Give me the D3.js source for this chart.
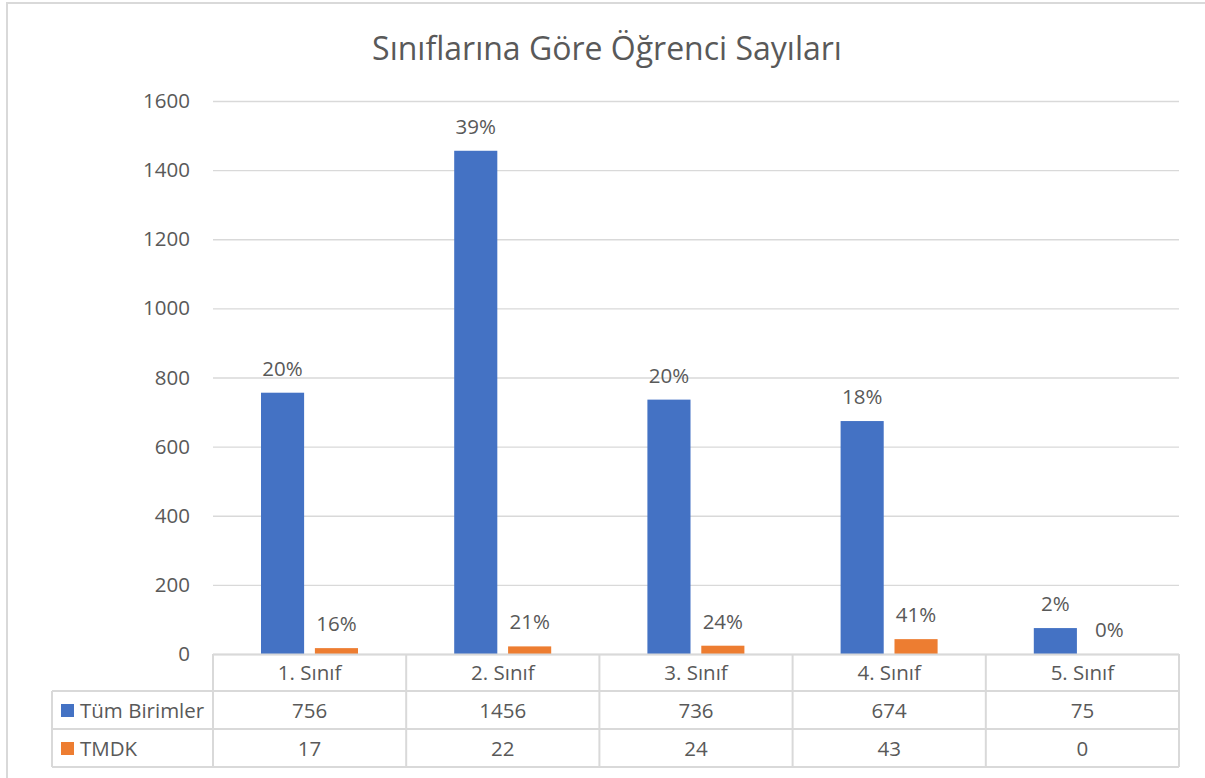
<!DOCTYPE html>
<html>
<head>
<meta charset="utf-8">
<script src="https://cdn.jsdelivr.net/npm/d3@7"></script>
<style>
  body { margin: 0; background: #fff; }
  svg text { font-family: "Open Sans", Lato, sans-serif; fill: #595959; }
</style>
</head>
<body>
<svg width="1205" height="778"></svg>
<script>
// chart data
var categories = ["1. Sınıf", "2. Sınıf", "3. Sınıf", "4. Sınıf", "5. Sınıf"];
var seriesNames = ["Tüm Birimler", "TMDK"];
var tumBirimler = [756, 1456, 736, 674, 75];
var tmdk = [17, 22, 24, 43, 0];
var tumLabels = ["20%", "39%", "20%", "18%", "2%"];
var tmdkLabels = ["16%", "21%", "24%", "41%", "0%"];
var yTicks = [0, 200, 400, 600, 800, 1000, 1200, 1400, 1600];
var colors = ["#4472C4", "#ED7D31"];

var svg = d3.select("svg"),
    margin = {top: 101, left: 213, right: 26},
    width = 1179 - margin.left,
    height = 654 - margin.top,
    rowH = 38,
    fs = "20.5px";

// outer frame
svg.append("rect")
    .attr("x", 7).attr("y", 3)
    .attr("width", 1220).attr("height", 800)
    .attr("fill", "none").attr("stroke", "#d9d9d9").attr("stroke-width", 2);

svg.append("text")
    .attr("x", 607).attr("y", 60)
    .attr("text-anchor", "middle")
    .style("font-size", "32px")
    .text("Sınıflarına Göre Öğrenci Sayıları");

var x = d3.scaleBand().domain(categories).range([0, width]);
var y = d3.scaleLinear().domain([0, 1600]).range([height, 0]);
var xs = d3.scaleBand().domain([0, 1]).range([48, 145]).paddingInner(0.2);

var g = svg.append("g")
    .attr("transform", "translate(" + margin.left + "," + margin.top + ")");

// gridlines
g.selectAll(".grid").data(yTicks).enter().append("line")
    .attr("x1", 0).attr("x2", width)
    .attr("y1", d => y(d) + 0.5).attr("y2", d => y(d) + 0.5)
    .attr("stroke", "#d9d9d9").attr("stroke-width", 1.3);

var yAxis = g.append("g")
    .call(d3.axisLeft(y).tickValues(yTicks).tickFormat(d3.format("d")).tickSize(0).tickPadding(23));
yAxis.select(".domain").remove();
yAxis.selectAll("text")
    .style("font-size", fs)
    .style("font-family", "'Open Sans', Lato, sans-serif")
    .attr("fill", "#595959");

var series = [tumBirimler, tmdk];
var labels = [tumLabels, tmdkLabels];

series.forEach(function(vals, si) {
    g.selectAll(".bar" + si).data(vals).enter().append("rect")
        .attr("x", (d, i) => x(categories[i]) + xs(si))
        .attr("width", xs.bandwidth())
        .attr("y", d => y(d))
        .attr("height", d => height - y(d))
        .attr("fill", colors[si]);

    g.selectAll(".lab" + si).data(vals).enter().append("text")
        .attr("x", (d, i) => x(categories[i]) + xs(si) + xs.bandwidth() / 2)
        .attr("y", d => y(d) - 17)
        .attr("text-anchor", "middle")
        .style("font-size", fs)
        .text((d, i) => labels[si][i]);
});

// data table
var tbl = g.append("g").attr("transform", "translate(0," + height + ")");
var tableLeft = 52 - margin.left;
var lineColor = "#d9d9d9";

// horizontal lines
tbl.append("line").attr("x1", 0).attr("x2", width).attr("y1", 0.5).attr("y2", 0.5)
    .attr("stroke", lineColor).attr("stroke-width", 2);
[1, 2, 3].forEach(function(r) {
    tbl.append("line").attr("x1", tableLeft).attr("x2", width)
        .attr("y1", r * rowH - 1).attr("y2", r * rowH - 1)
        .attr("stroke", lineColor).attr("stroke-width", 2);
});
// vertical lines
d3.range(categories.length + 1).forEach(function(i) {
    var xx = i < categories.length ? x(categories[i]) : width;
    tbl.append("line").attr("x1", xx).attr("x2", xx)
        .attr("y1", 0).attr("y2", 3 * rowH - 1)
        .attr("stroke", lineColor).attr("stroke-width", 2);
});
tbl.append("line").attr("x1", tableLeft).attr("x2", tableLeft)
    .attr("y1", rowH - 1).attr("y2", 3 * rowH - 1)
    .attr("stroke", lineColor).attr("stroke-width", 2);

tbl.selectAll(".cat").data(categories).enter().append("text")
    .attr("x", d => x(d) + x.bandwidth() / 2)
    .attr("y", rowH / 2 + 7)
    .attr("text-anchor", "middle")
    .style("font-size", fs)
    .text(d => d);

series.forEach(function(vals, si) {
    var ry = (si + 1) * rowH + rowH / 2 + 7;
    tbl.selectAll(".val" + si).data(vals).enter().append("text")
        .attr("x", (d, i) => x(categories[i]) + x.bandwidth() / 2)
        .attr("y", ry)
        .attr("text-anchor", "middle")
        .style("font-size", fs)
        .text(d => d);
    tbl.append("rect")
        .attr("x", tableLeft + 9).attr("y", ry - 14)
        .attr("width", 13).attr("height", 13)
        .attr("fill", colors[si]);
    tbl.append("text")
        .attr("x", tableLeft + 28).attr("y", ry)
        .style("font-size", fs)
        .text(seriesNames[si]);
});
</script>
</body>
</html>
